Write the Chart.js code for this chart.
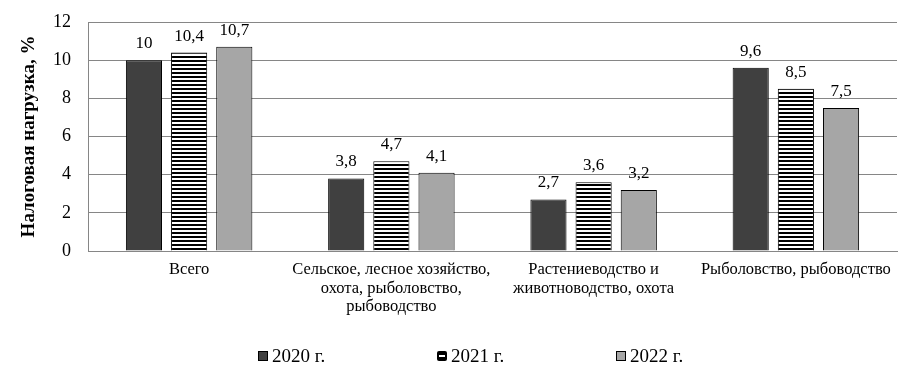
<!DOCTYPE html>
<html><head><meta charset="utf-8">
<script src="https://cdn.jsdelivr.net/npm/chart.js@4"></script>
<style>html,body{margin:0;padding:0;background:#fff}#wrap{width:920px;height:377px}</style>
</head><body><div id="wrap"><canvas id="c" width="920" height="377"></canvas></div>
<script>
const categories = [
  ["Всего"],
  ["Сельское, лесное хозяйство,", "охота, рыболовство,", "рыбоводство"],
  ["Растениеводство и", "животноводство, охота"],
  ["Рыболовство, рыбоводство"]
];
const seriesNames = ["2020 г.", "2021 г.", "2022 г."];
const values2020 = [10, 3.8, 2.7, 9.6];
const values2021 = [10.4, 4.7, 3.6, 8.5];
const values2022 = [10.7, 4.1, 3.2, 7.5];
const yTicks = [0, 2, 4, 6, 8, 10, 12];

const FONT = "'Liberation Serif','Times New Roman',serif";

function stripePattern(){
  const p = document.createElement('canvas');
  p.width = 4; p.height = 4;
  const g = p.getContext('2d');
  g.fillStyle = '#fff'; g.fillRect(0,0,4,4);
  g.fillStyle = '#000'; g.fillRect(0,0,4,2);
  return document.getElementById('c').getContext('2d').createPattern(p,'repeat');
}
const stripes = stripePattern();

const labelPlugin = {
  id: 'valueLabels',
  afterDatasetsDraw(chart){
    const ctx = chart.ctx;
    ctx.save();
    ctx.font = "17px " + FONT;
    ctx.fillStyle = '#000';
    ctx.textAlign = 'center';
    ctx.textBaseline = 'bottom';
    chart.data.datasets.forEach((ds, i) => {
      chart.getDatasetMeta(i).data.forEach((bar, j) => {
        const v = ds.data[j];
        ctx.fillText(String(v).replace('.', ','), bar.x, bar.y - 8);
      });
    });
    ctx.restore();
  }
};

const legendPlugin = {
  id: 'customLegend',
  afterDraw(chart){
    const ctx = chart.ctx;
    ctx.save();
    ctx.font = "19px " + FONT;
    ctx.textBaseline = 'middle';
    ctx.textAlign = 'left';
    const y = 356;
    const startX = 258, step = 179;
    chart.data.datasets.forEach((ds, i) => {
      const x = startX + i * step;
      if (i === 1) {
        ctx.fillStyle = '#000';
        ctx.beginPath();
        ctx.roundRect(x, y - 5, 10, 10, 2);
        ctx.fill();
        ctx.fillStyle = '#fff';
        ctx.fillRect(x + 2, y - 1, 6, 2);
      } else {
        ctx.fillStyle = ds.backgroundColor;
        ctx.fillRect(x, y - 5, 10, 10);
        ctx.strokeStyle = '#000';
        ctx.lineWidth = 1;
        ctx.strokeRect(x + 0.5, y - 4.5, 9, 9);
      }
      ctx.fillStyle = '#000';
      ctx.fillText(ds.label, x + 14, y + 1);
    });
    ctx.restore();
  }
};

new Chart(document.getElementById('c'), {
  type: 'bar',
  data: {
    labels: categories,
    datasets: [
      {label: seriesNames[0], data: values2020, backgroundColor: '#404040', borderColor: '#000', borderWidth: 1},
      {label: seriesNames[1], data: values2021, backgroundColor: stripes, borderColor: '#000', borderWidth: 1},
      {label: seriesNames[2], data: values2022, backgroundColor: '#a6a6a6', borderColor: '#000', borderWidth: 1}
    ]
  },
  options: {
    responsive: false,
    animation: false,
    devicePixelRatio: 1,
    layout: {padding: {top: 22, right: 23, left: 0, bottom: 44}},
    datasets: {bar: {categoryPercentage: 0.67, barPercentage: 0.8}},
    plugins: {
      tooltip: {enabled: false},
      legend: {display: false}
    },
    scales: {
      x: {
        grid: {display: false, drawTicks: false},
        border: {display: true, color: '#868686'},
        ticks: {font: {family: FONT, size: 16.5, lineHeight: 1.1}, color: '#000', padding: 10, maxRotation: 0, autoSkip: false},
        afterFit(s){ s.height = 82; }
      },
      y: {
        min: 0, max: 12,
        afterBuildTicks(s){ s.ticks = yTicks.map(v => ({value: v})); },
        grid: {color: '#868686', drawTicks: false},
        border: {display: true, color: '#868686'},
        ticks: {font: {family: FONT, size: 18}, color: '#000', padding: 17},
        title: {display: true, text: 'Налоговая нагрузка, %', font: {family: FONT, size: 19, weight: 'bold'}, color: '#000', padding: {top: 18, bottom: 0}},
        afterFit(s){ s.width = 88; s.paddingTop = 0; s.paddingBottom = 0; }
      }
    }
  },
  plugins: [labelPlugin, legendPlugin]
});
</script></body></html>
